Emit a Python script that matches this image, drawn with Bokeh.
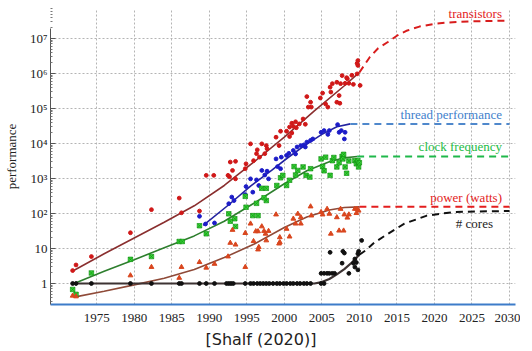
import numpy as np
from bokeh.plotting import figure
from bokeh.models import FixedTicker, Range1d, Title
from bokeh.core.properties import value
from bokeh.embed import file_html
from bokeh.resources import INLINE

# ---------------- tick labels ----------------
x_tick_years = [1975, 1980, 1985, 1990, 1995, 2000, 2005, 2010, 2015, 2020, 2025, 2030]
y_tick_values = [1, 10, 100, 1000, 10000, 100000, 1000000, 10000000]
y_tick_labels = ["1", "10", "10²", "10³", "10⁴", "10⁵", "10⁶", "10⁷"]

# ---------------- scatter data (year, log10 value) ----------------
transistor_years = [1971.8, 1972.25, 1974.3, 1979.5, 1982.3, 1986.0, 1986.3, 1988.7, 1989.6, 1990.6,
                    1992.5, 1992.7, 1992.8, 1993.5, 1993.1, 1993.5, 1994.9, 1994.8, 1995.5, 1995.9,
                    1996.3, 1996.4, 1996.7, 1997.0, 1997.6, 1997.7, 1997.4, 1998.9, 1999.3, 1999.5,
                    2000.3, 2000.7, 2001.0, 2001.2, 2001.5, 2000.7, 2001.0, 2001.6, 2002.0, 2002.5,
                    2002.8, 2003.0, 2003.5, 2003.6, 2003.2, 2005.1, 2004.8, 2005.5, 2005.8, 2006.2,
                    2006.1, 2006.4, 2007.0, 2007.3, 2007.0, 2007.4, 2007.5, 2007.7, 2008.1, 2008.4,
                    2008.6, 2009.2, 2008.3, 2009.0, 2009.7, 2009.8, 2009.7, 2010.1, 2009.8]
transistor_log10 = [0.37, 0.53, 0.77, 1.45, 2.11, 2.44, 2.02, 2.07, 3.09, 3.09,
                    3.09, 3.05, 3.47, 3.49, 3.23, 2.99, 3.42, 3.28, 3.99, 3.51,
                    3.71, 3.82, 3.61, 3.99, 3.94, 3.85, 3.71, 4.18, 3.94, 4.35,
                    4.35, 4.47, 4.58, 4.49, 4.62, 4.20, 4.30, 4.45, 4.56, 4.70,
                    4.55, 5.34, 5.18, 5.04, 5.04, 5.44, 5.30, 5.13, 5.04, 5.47,
                    5.61, 5.71, 5.75, 5.37, 5.18, 5.15, 5.71, 5.94, 5.72, 5.85,
                    5.72, 5.69, 5.88, 5.95, 6.29, 6.37, 5.99, 5.66, 6.23]

thread_years = [1988.7, 1989.5, 1990.7, 1992.6, 1993.0, 1993.3, 1994.8, 1995.8, 1994.9, 1995.5,
                1996.3, 1996.6, 1997.0, 1997.4, 1997.7, 1997.9, 1998.9, 1999.1, 1999.5, 1999.6,
                2000.3, 2000.6, 2001.2, 2001.5, 2001.7, 2002.2, 2002.6, 2003.0, 2002.8, 2003.5,
                2003.8, 2004.9, 2005.3, 2005.8, 2006.0, 2007.1, 2007.3, 2007.6, 2008.0, 2008.1]
thread_log10 = [1.92, 1.70, 1.73, 2.28, 2.47, 2.37, 2.54, 2.61, 2.77, 2.99,
                2.96, 2.80, 3.23, 3.10, 3.21, 2.99, 3.56, 3.34, 3.28, 3.61,
                3.66, 3.72, 3.80, 3.70, 3.90, 3.94, 3.96, 4.04, 3.90, 4.09,
                4.13, 4.32, 4.37, 4.26, 4.37, 4.54, 4.32, 4.37, 4.13, 4.32]

clock_years = [1971.8, 1972.25, 1974.3, 1979.5, 1982.3, 1986.0, 1986.4, 1988.7, 1989.6, 1992.6,
               1992.8, 1993.4, 1993.5, 1994.8, 1994.9, 1995.8, 1996.5, 1996.3, 1997.6, 1997.3,
               1997.0, 1997.6, 1999.0, 1999.5, 1999.8, 2000.3, 2000.7, 2001.3, 2001.5, 2001.8,
               2002.5, 2002.9, 2003.5, 2003.4, 2004.9, 2005.1, 2005.3, 2005.5, 2006.1, 2006.4,
               2006.6, 2007.0, 2007.3, 2007.7, 2007.8, 2007.9, 2008.1, 2008.3, 2008.6, 2009.4,
               2009.6, 2009.8, 2009.9, 2010.0]
clock_log10 = [-0.17, -0.31, 0.30, 0.69, 0.77, 1.20, 1.20, 1.65, 1.42, 1.99,
               1.78, 1.85, 1.63, 2.49, 2.18, 1.94, 1.94, 2.29, 2.37, 2.45,
               2.72, 2.72, 2.80, 3.02, 3.09, 2.80, 2.95, 3.34, 3.10, 3.23,
               3.33, 3.09, 3.28, 3.04, 3.56, 3.34, 3.22, 3.61, 3.09, 3.51,
               3.60, 3.33, 3.45, 3.63, 3.56, 3.69, 3.33, 3.15, 3.50, 3.51,
               3.42, 3.51, 3.33, 3.45]

power_years = [1971.8, 1972.25, 1979.5, 1982.3, 1986.0, 1986.3, 1988.7, 1989.6, 1990.7, 1992.5,
               1992.8, 1993.5, 1993.1, 1994.8, 1994.8, 1995.5, 1995.9, 1996.2, 1996.5, 1996.6,
               1996.5, 1997.0, 1997.3, 1997.5, 1997.6, 1997.9, 1998.9, 1999.4, 1999.4, 1999.3,
               2000.3, 2000.7, 2001.2, 2001.5, 2001.8, 2002.2, 2002.2, 2003.5, 2003.6, 2004.9,
               2005.1, 2005.7, 2006.0, 2006.2, 2007.0, 2007.3, 2007.5, 2007.9, 2008.0, 2008.4,
               2008.6, 2009.4, 2009.7, 2009.6, 2009.9]
power_log10 = [-0.35, -0.37, 0.23, 0.47, 0.16, 0.47, 0.61, 0.45, 0.56, 0.77,
               1.16, 1.11, 1.53, 1.44, 0.47, 1.71, 1.21, 1.49, 1.49, 1.04,
               0.97, 1.63, 1.50, 1.42, 1.23, 1.50, 1.97, 1.32, 1.18, 1.14,
               1.56, 1.34, 1.85, 1.71, 1.99, 1.89, 1.71, 2.20, 1.94, 2.04,
               1.97, 2.13, 1.99, 1.42, 1.89, 1.51, 2.13, 1.51, 1.97, 1.88,
               1.97, 2.13, 2.13, 2.01, 2.08]

cores_years = [1971.8, 1972.25, 1974.3, 1979.5, 1982.3, 1986.0, 1986.3, 1988.7, 1989.6, 1990.7,
               1992.3, 1992.6, 1992.9, 1993.2, 1994.8, 1995.5, 1995.9, 1996.4, 1996.8, 1997.2,
               1997.6, 1998.0, 1998.5, 1999.0, 1999.4, 1999.9, 2000.3, 2000.8, 2001.2, 2001.7,
               2002.1, 2002.6, 2003.0, 2003.5, 2004.9, 2005.3,
               2004.9, 2005.3, 2005.7, 2006.0, 2006.4, 2006.7, 2008.6,
               2006.1, 2007.7, 2009.2, 2007.8, 2008.0, 2009.4, 2009.4, 2009.8, 2009.8, 2010.3,
               2009.6, 2009.9]
cores_log10 = [0.0] * 36 + \
              [0.29, 0.29, 0.29, 0.29, 0.29, 0.29, 0.29,
               0.89, 0.58, 0.58, 0.92, 0.87, 0.70, 0.47, 0.85, 0.39, 1.23,
               0.60, 0.92]

# ---------------- trend lines (year, log10 value) ----------------
transistor_fit_years = [1972, 1976, 1980, 1984, 1988, 1992, 1996, 2000, 2004, 2008, 2010]
transistor_fit_log10 = [0.38, 0.85, 1.30, 1.75, 2.22, 2.80, 3.48, 4.18, 4.93, 5.65, 6.03]
transistor_proj_years = [2010, 2011.4, 2012.5, 2013.8, 2015, 2016.4, 2018, 2020, 2022, 2024.7, 2030]
transistor_proj_log10 = [6.03, 6.47, 6.72, 6.90, 7.08, 7.23, 7.34, 7.42, 7.46, 7.49, 7.51]

thread_fit_years = [1989.2, 1992.6, 1995.5, 1998.3, 2000.5, 2002.7, 2005, 2007, 2008.8]
thread_fit_log10 = [1.66, 2.25, 2.78, 3.23, 3.60, 3.94, 4.26, 4.48, 4.56]
thread_proj_years = [2008.8, 2030]
thread_proj_log10 = [4.56, 4.56]

clock_fit_years = [1972, 1976, 1980, 1984, 1988, 1992, 1996, 2000, 2003, 2006, 2008, 2009.7]
clock_fit_log10 = [0.0, 0.35, 0.68, 1.02, 1.36, 1.78, 2.30, 2.85, 3.22, 3.48, 3.59, 3.63]
clock_proj_years = [2009.7, 2030]
clock_proj_log10 = [3.63, 3.63]

power_fit_years = [1972, 1976, 1980, 1984, 1988, 1992, 1996, 2000, 2003, 2006, 2008, 2010]
power_fit_log10 = [-0.39, -0.22, -0.04, 0.15, 0.40, 0.74, 1.13, 1.60, 1.90, 2.10, 2.17, 2.19]
power_proj_years = [2010, 2030]
power_proj_log10 = [2.19, 2.19]

cores_fit_years = [1972, 2004, 2005, 2006, 2007, 2008, 2009, 2010]
cores_fit_log10 = [0.0, 0.0, 0.04, 0.13, 0.26, 0.41, 0.60, 0.82]
cores_proj_years = [2010, 2010.8, 2012, 2013.8, 2016, 2019, 2022.5, 2026, 2030]
cores_proj_log10 = [0.82, 0.94, 1.17, 1.42, 1.71, 1.94, 2.04, 2.06, 2.07]

series_names = ["transistors", "thread performance", "clock frequency", "power (watts)", "# cores"]


def v(a):
    return 10 ** np.asarray(a, dtype=float)


p = figure(width=520, height=351,
           x_range=Range1d(1968.85, 2030.8),
           y_range=Range1d(10 ** -0.6, 10 ** 7.857),
           y_axis_type="log",
           output_backend="svg", toolbar_location=None,
           min_border_left=42, min_border_right=5, min_border_top=8, min_border_bottom=47)
p.outline_line_color = None
p.background_fill_color = "white"
p.border_fill_color = "white"

# grid
p.xgrid.ticker = FixedTicker(ticks=x_tick_years)
p.ygrid.ticker = FixedTicker(ticks=y_tick_values)
for g in (p.xgrid, p.ygrid):
    g.grid_line_color = "#b4b4b4"
    g.grid_line_dash = "2 2"
    g.grid_line_width = 1

# x axis
p.xaxis.ticker = FixedTicker(ticks=x_tick_years)
p.xaxis.axis_line_color = "#3d7cc9"
p.xaxis.axis_line_width = 2
p.xaxis.major_tick_line_color = None
p.xaxis.minor_tick_line_color = None
p.xaxis.major_label_text_font = "Liberation Serif"
p.xaxis.major_label_text_font_size = "13px"
p.xaxis.major_label_text_color = "#222222"
p.xaxis.major_label_standoff = 3

# y axis
minor = [m * 10.0 ** k for k in range(-1, 8) for m in range(2, 10)]
p.yaxis.ticker = FixedTicker(ticks=y_tick_values, minor_ticks=minor)
p.yaxis.major_label_overrides = {float(t): l for t, l in zip(y_tick_values, y_tick_labels)}
p.yaxis.bounds = (10 ** -0.6, 10 ** 7.29)
p.yaxis.axis_line_color = "#555555"
p.yaxis.major_tick_in = 5
p.yaxis.major_tick_out = 0
p.yaxis.minor_tick_in = 2
p.yaxis.minor_tick_out = 0
p.yaxis.major_tick_line_color = "#555555"
p.yaxis.minor_tick_line_color = "#777777"
p.yaxis.major_label_text_font = "Liberation Serif"
p.yaxis.major_label_text_font_size = "13px"
p.yaxis.major_label_text_color = "#222222"
p.yaxis.major_label_standoff = 3
p.yaxis.axis_label = "performance"
p.yaxis.axis_label_text_font = "Liberation Serif"
p.yaxis.axis_label_text_font_size = "13px"
p.yaxis.axis_label_text_font_style = "normal"
p.yaxis.axis_label_text_color = "#222222"
p.yaxis.axis_label_standoff = 8

# trend lines
p.line(transistor_fit_years, v(transistor_fit_log10), line_color="#8a2f2f", line_width=1.6)
p.line(thread_fit_years, v(thread_fit_log10), line_color="#2323a0", line_width=1.6)
p.line(clock_fit_years, v(clock_fit_log10), line_color="#2e7f2e", line_width=1.6)
p.line(power_fit_years, v(power_fit_log10), line_color="#8f4a38", line_width=1.6)
p.line(cores_fit_years, v(cores_fit_log10), line_color="#3d3333", line_width=2.2)

# projections
p.line(transistor_proj_years, v(transistor_proj_log10), line_color="#d81c1c", line_width=2, line_dash="7 5")
p.line(thread_proj_years, v(thread_proj_log10), line_color="#4f88cc", line_width=2, line_dash="7 5")
p.line(clock_proj_years, v(clock_proj_log10), line_color="#1fb84a", line_width=2, line_dash="7 5")
p.line(power_proj_years, v(power_proj_log10), line_color="#e31e1e", line_width=2, line_dash="7 5")
p.line(cores_proj_years, v(cores_proj_log10), line_color="#111111", line_width=2, line_dash="7 5")

# scatter points
p.scatter(transistor_years, v(transistor_log10), marker="circle", size=3.8,
          fill_color="#d01818", line_color="#d01818")
p.scatter(thread_years, v(thread_log10), marker="circle", size=3.8,
          fill_color="#1c1cc8", line_color="#1c1cc8")
p.scatter(clock_years, v(clock_log10), marker="square_x", size=4.5,
          fill_color="#3ad63a", line_color="#149414", line_width=0.7)
p.scatter(power_years, v(power_log10), marker="triangle", size=4.8,
          fill_color="#d9461e", line_color="#d9461e")
p.scatter(cores_years, v(cores_log10), marker="circle", size=3.8,
          fill_color="#111111", line_color="#111111")

# series labels
label_x = [2029.0, 2029.0, 2029.0, 2029.0, 2027.8]
label_y = v([7.71, 4.83, 3.91, 2.46, 1.71])
label_colors = ["#e3221c", "#3f7fcc", "#22bb44", "#e3221c", "#222222"]
for name, lx, ly, lc in zip(series_names, label_x, label_y, label_colors):
    p.text(x=[lx], y=[ly], text=[name], text_color=lc, text_align="right",
           text_baseline="middle", text_font=value("Liberation Serif"), text_font_size="13px")

# source
src = Title(text="[Shalf (2020)]", align="left", offset=155, text_font="DejaVu Sans",
            text_font_size="16px", text_font_style="normal", text_color="#222222", standoff=6)
p.add_layout(src, "below")

open("out.html", "w").write(file_html(p, INLINE))
